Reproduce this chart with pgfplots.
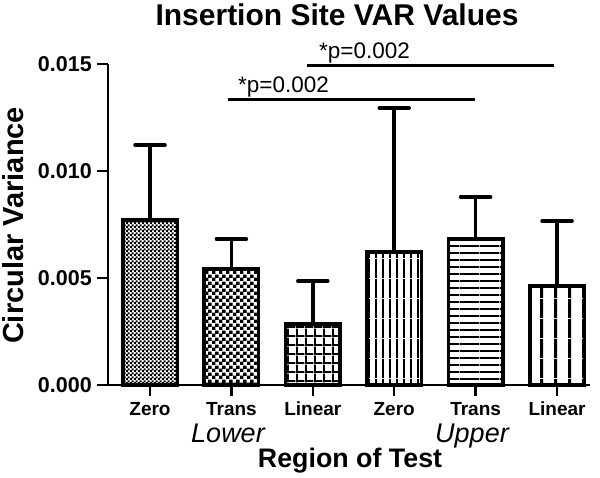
\documentclass[border=0pt]{standalone}
\usepackage{fontspec}
\setmainfont{Liberation Sans}
\usepackage{pgfplots}
\pgfplotsset{compat=1.18}
\usetikzlibrary{patterns}
\pgfdeclarepatternformonly{finecheck}{\pgfqpoint{0pt}{0pt}}{\pgfqpoint{3.6pt}{3.6pt}}{\pgfqpoint{3.6pt}{3.6pt}}{%
 \pgfpathrectangle{\pgfqpoint{0pt}{0pt}}{\pgfqpoint{2.1pt}{2.1pt}}%
 \pgfpathrectangle{\pgfqpoint{1.8pt}{1.8pt}}{\pgfqpoint{2.1pt}{2.1pt}}\pgfusepath{fill}}
\pgfdeclarepatternformonly{coarsecheck}{\pgfqpoint{0pt}{0pt}}{\pgfqpoint{6.6pt}{6.6pt}}{\pgfqpoint{6.6pt}{6.6pt}}{%
 \pgfpathrectangle{\pgfqpoint{0pt}{0pt}}{\pgfqpoint{3.5pt}{3.5pt}}%
 \pgfpathrectangle{\pgfqpoint{3.3pt}{3.3pt}}{\pgfqpoint{3.5pt}{3.5pt}}\pgfusepath{fill}}
\pgfdeclarepatternformonly{mygrid}{\pgfqpoint{0pt}{0pt}}{\pgfqpoint{8.7pt}{8.7pt}}{\pgfqpoint{8.7pt}{8.7pt}}{%
 \pgfpathrectangle{\pgfqpoint{0pt}{0pt}}{\pgfqpoint{8.7pt}{2pt}}%
 \pgfpathrectangle{\pgfqpoint{0pt}{0pt}}{\pgfqpoint{2pt}{8.7pt}}\pgfusepath{fill}}
\pgfdeclarepatternformonly{vdense}{\pgfqpoint{0pt}{0pt}}{\pgfqpoint{6.7pt}{20pt}}{\pgfqpoint{6.7pt}{20pt}}{%
 \pgfpathrectangle{\pgfqpoint{0pt}{0pt}}{\pgfqpoint{2pt}{20pt}}\pgfusepath{fill}}
\pgfdeclarepatternformonly{hlines}{\pgfqpoint{0pt}{0pt}}{\pgfqpoint{20pt}{6.5pt}}{\pgfqpoint{20pt}{6.5pt}}{%
 \pgfpathrectangle{\pgfqpoint{0pt}{0pt}}{\pgfqpoint{20pt}{2pt}}\pgfusepath{fill}}
\pgfdeclarepatternformonly{vsparse}{\pgfqpoint{0pt}{0pt}}{\pgfqpoint{13.5pt}{20pt}}{\pgfqpoint{13.5pt}{20pt}}{%
 \pgfpathrectangle{\pgfqpoint{0pt}{0pt}}{\pgfqpoint{3.2pt}{20pt}}\pgfusepath{fill}}
\pgfplotsset{mybar/.style={ybar, bar width=54.5pt, bar shift=0pt, draw=black, line width=3.5pt,
   /pgfplots/error bars/y dir=plus, /pgfplots/error bars/y explicit,
   /pgfplots/error bars/error bar style={line width=3.5pt, black},
   /pgfplots/error bars/error mark options={rotate=90, mark size=15pt, line width=3.5pt, black, line cap=round}}}
\begin{document}
\begin{tikzpicture}
\begin{axis}[
 at={(0pt,0pt)}, anchor=south west,
 scale only axis, width=482pt, height=321pt,
 xmin=-0.516, xmax=5.405, ymin=0, ymax=0.015,
 axis x line*=bottom, axis y line*=left,
 axis line style={-, line width=2.5pt, black},
 clip=false,
 xtick={0,1,2,3,4,5}, xticklabels={Zero,Trans,Linear,Zero,Trans,Linear},
 ytick={0,0.005,0.01,0.015}, yticklabels={0.000,0.005,0.010,0.015},
 scaled y ticks=false,
 tick align=outside,
 major tick length=11pt,
 tick style={line width=2.5pt, black},
 xticklabel style={font=\bfseries\fontsize{19}{19}\selectfont, inner sep=3pt, yshift=-3pt},
 yticklabel style={font=\bfseries\fontsize{21.5}{21.5}\selectfont, inner sep=5pt},
]
\addplot[mybar, pattern=finecheck] coordinates {(0,0.00771) +- (0,0.00350)};
\addplot[mybar, pattern=coarsecheck] coordinates {(1,0.00542) +- (0,0.00140)};
\addplot[mybar, pattern=mygrid] coordinates {(2,0.00285) +- (0,0.00201)};
\addplot[mybar, pattern=vdense] coordinates {(3,0.00621) +- (0,0.00673)};
\addplot[mybar, pattern=hlines] coordinates {(4,0.00682) +- (0,0.00197)};
\addplot[mybar, pattern=vsparse] coordinates {(5,0.00463) +- (0,0.00303)};
\draw[line width=3pt] (axis cs:0.958,0.013364) -- (axis cs:3.993,0.013364);
\draw[line width=3pt] (axis cs:1.929,0.014907) -- (axis cs:4.963,0.014907);
\node[anchor=base west, inner sep=0pt, font=\fontsize{22.5}{22.5}\selectfont] at (axis cs:1.081,0.01369) {*p=0.002};
\node[anchor=base west, inner sep=0pt, font=\fontsize{22.5}{22.5}\selectfont] at (axis cs:2.076,0.01528) {*p=0.002};
\end{axis}
\node[anchor=base, inner sep=0pt, font=\bfseries\fontsize{30}{30}\selectfont] at (229pt,359.5pt) {Insertion Site VAR Values};
\node[rotate=90, inner sep=0pt, font=\bfseries\fontsize{29}{29}\selectfont] at (-95pt,159.5pt) {Circular Variance};
\node[anchor=base, inner sep=0pt, font=\itshape\fontsize{27}{27}\selectfont] at (120pt,-58pt) {Lower};
\node[anchor=base, inner sep=0pt, font=\itshape\fontsize{27}{27}\selectfont] at (364pt,-58pt) {Upper};
\node[anchor=base, inner sep=0pt, font=\bfseries\fontsize{26.8}{26.8}\selectfont] at (242pt,-83pt) {Region of Test};
\pgfresetboundingbox
\path[use as bounding box] (-108pt,-93pt) rectangle (492pt,385pt);
\end{tikzpicture}
\end{document}
